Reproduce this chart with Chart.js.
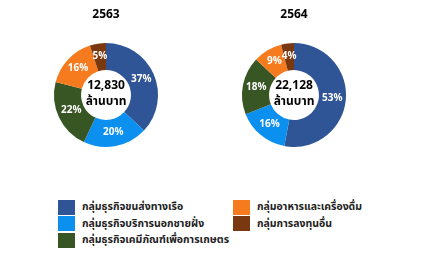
<!DOCTYPE html>
<html>
<head>
<meta charset="utf-8">
<script src="https://cdn.jsdelivr.net/npm/chart.js@4.4.0/dist/chart.umd.min.js"></script>
<style>
  body { margin: 0; background: #fff; width: 423px; height: 256px; position: relative; overflow: hidden; font-family: "Noto Sans Thai", "Noto Sans", sans-serif; }
  .box { position: absolute; top: 0; width: 130px; height: 150px; }
  #legend { position: absolute; left: 58px; top: 199px; display: grid; grid-template-rows: repeat(3, 16.5px); grid-auto-flow: column; grid-template-columns: 175px 150px; }
  .item { display: flex; align-items: center; font-size: 10.5px; font-weight: bold; color: #222; white-space: nowrap; }
  .sw { width: 17px; height: 15px; margin-right: 7px; flex: none; }
</style>
</head>
<body>
<div class="box" style="left:41px"><canvas id="c1"></canvas></div>
<div class="box" style="left:229px"><canvas id="c2"></canvas></div>
<div id="legend"></div>
<script>
const categories = ['กลุ่มธุรกิจขนส่งทางเรือ', 'กลุ่มธุรกิจบริการนอกชายฝั่ง', 'กลุ่มธุรกิจเคมีภัณฑ์เพื่อการเกษตร', 'กลุ่มอาหารและเครื่องดื่ม', 'กลุ่มการลงทุนอื่น'];
const colors = ['#2F5597', '#0C90F0', '#375623', '#F57B1E', '#7A3810'];
const years = ['2563', '2564'];
const values2563 = [37, 20, 22, 16, 5];
const values2564 = [53, 16, 18, 9, 4];
const totals = ['12,830', '22,128'];
const unit = 'ล้านบาท';

const font = '"Noto Sans Thai", "Noto Sans", sans-serif';

const labelPlugin = {
  id: 'labels',
  afterDatasetsDraw(chart) {
    const ctx = chart.ctx;
    const meta = chart.getDatasetMeta(0);
    const data = chart.data.datasets[0].data;
    ctx.save();
    ctx.fillStyle = '#fff';
    ctx.font = 'bold 10px ' + font;
    ctx.textAlign = 'center';
    ctx.textBaseline = 'middle';
    meta.data.forEach((arc, i) => {
      const p = arc.tooltipPosition();
      ctx.fillText(data[i] + '%', p.x, p.y);
    });
    const c = meta.data[0];
    ctx.fillStyle = '#000';
    ctx.font = 'bold 12px ' + font;
    ctx.fillText(chart.options.plugins.centerText, c.x, c.y - 8);
    ctx.font = 'bold 12px ' + font;
    ctx.fillText(unit, c.x, c.y + 8);
    ctx.restore();
  }
};

function makeChart(id, year, values, total) {
  new Chart(document.getElementById(id), {
    type: 'doughnut',
    data: {
      labels: categories,
      datasets: [{ data: values, backgroundColor: colors, borderWidth: 0 }]
    },
    options: {
      responsive: true,
      maintainAspectRatio: false,
      animation: false,
      cutout: '48%',
      layout: { padding: { bottom: 3 } },
      plugins: {
        centerText: total,
        legend: { display: false },
        tooltip: { enabled: false },
        title: {
          display: true,
          text: year,
          color: '#000',
          font: { size: 12, weight: 'bold', family: font, lineHeight: 1.2 },
          padding: { top: 8, bottom: 20.6 }
        }
      }
    },
    plugins: [labelPlugin]
  });
}

makeChart('c1', years[0], values2563, totals[0]);
makeChart('c2', years[1], values2564, totals[1]);

const legend = document.getElementById('legend');
categories.forEach((name, i) => {
  const item = document.createElement('div');
  item.className = 'item';
  item.innerHTML = '<span class="sw" style="background:' + colors[i] + '"></span>' + name;
  legend.appendChild(item);
});
</script>
</body>
</html>
